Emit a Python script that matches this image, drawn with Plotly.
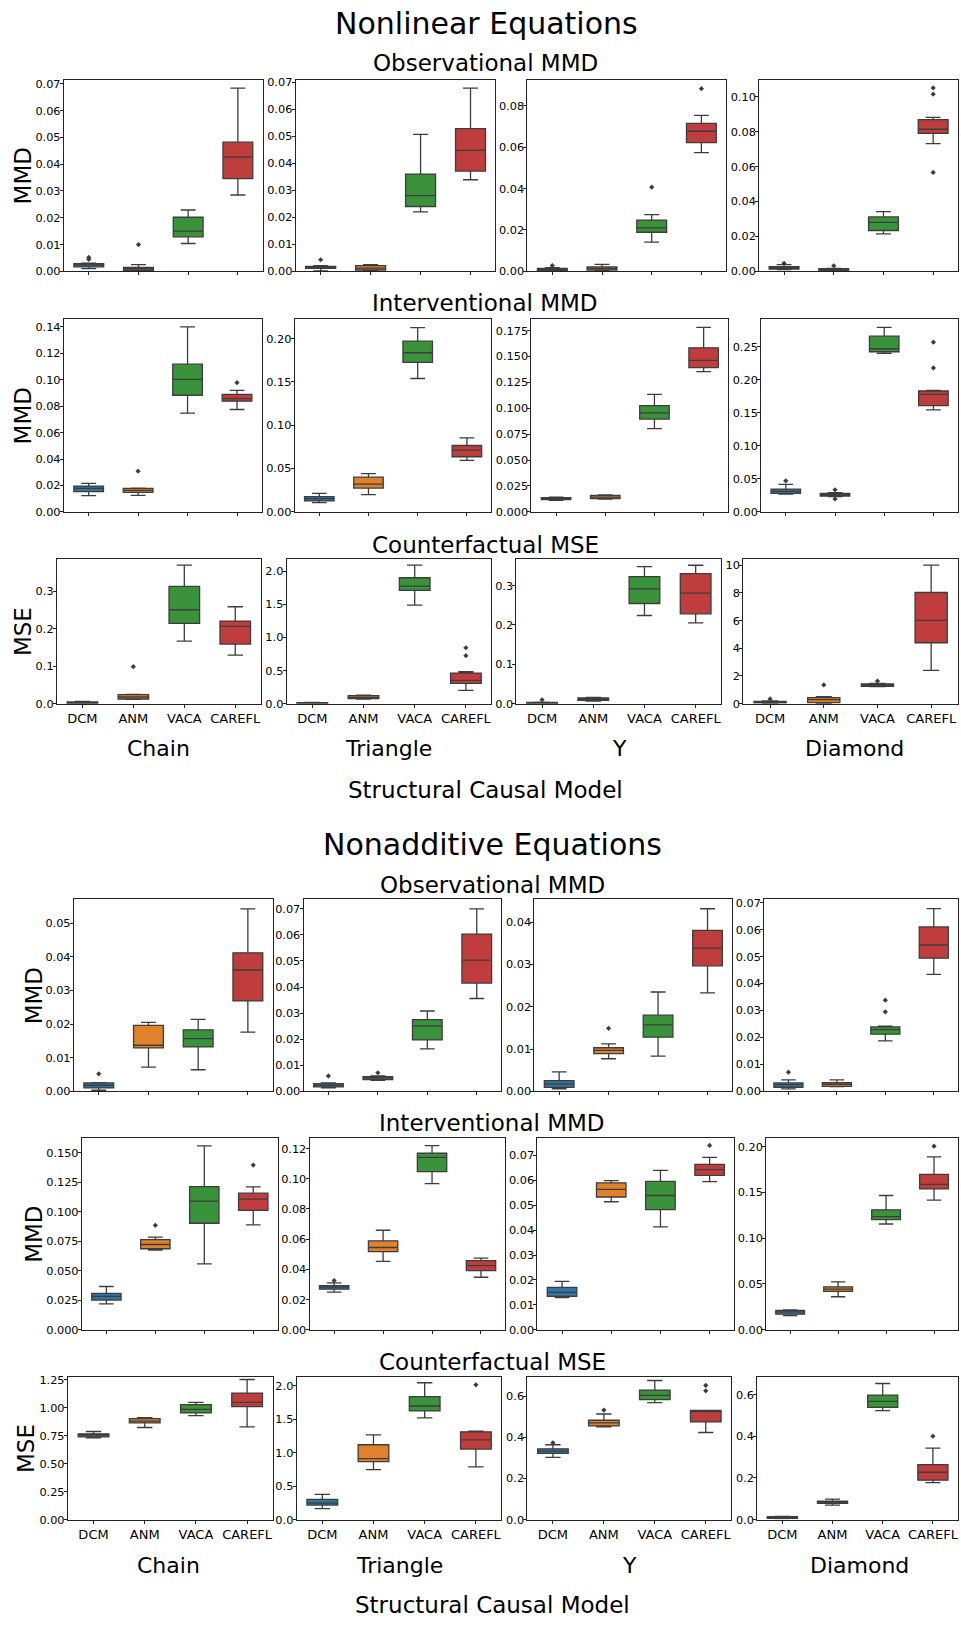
import plotly.graph_objects as go

# ---------------- data ----------------
methods = ["DCM", "ANM", "VACA", "CAREFL"]
models = ["Chain", "Triangle", "Y", "Diamond"]
colors = ["#3274a1", "#e1812c", "#3a923a", "#c03d3e"]

# Nonlinear equations -- Observational MMD  (per model: [DCM, ANM, VACA, CAREFL])
nl_obs_lo = [[0.0010, 0.0001, 0.0104, 0.0285], [0.0002, 0.0002, 0.0220, 0.0339],
             [0.0002, 0.0002, 0.0141, 0.0574], [0.0010, 0.0002, 0.0215, 0.0732]]
nl_obs_q1 = [[0.0017, 0.0004, 0.0129, 0.0346], [0.0011, 0.0005, 0.0240, 0.0371],
             [0.0005, 0.0006, 0.0189, 0.0622], [0.0013, 0.0006, 0.0234, 0.0791]]
nl_obs_med = [[0.0023, 0.0010, 0.0150, 0.0426], [0.0015, 0.0012, 0.0280, 0.0448],
              [0.0010, 0.0013, 0.0210, 0.0677], [0.0020, 0.0010, 0.0281, 0.0814]]
nl_obs_q3 = [[0.0029, 0.0015, 0.0202, 0.0482], [0.0018, 0.0021, 0.0360, 0.0528],
             [0.0014, 0.0021, 0.0248, 0.0715], [0.0027, 0.0015, 0.0312, 0.0869]]
nl_obs_hi = [[0.0031, 0.0025, 0.0229, 0.0684], [0.0021, 0.0025, 0.0507, 0.0678],
             [0.0018, 0.0034, 0.0274, 0.0754], [0.0038, 0.0017, 0.0342, 0.0882]]
nl_obs_out = [[[0.0045, 0.0052], [0.0100], [], []], [[0.0043], [], [], []],
              [[0.0028], [], [0.0407], [0.0883]], [[0.0046], [0.0032], [], [0.1051, 0.1015, 0.0567]]]

# Nonlinear equations -- Interventional MMD
nl_int_lo = [[0.0123, 0.0125, 0.0748, 0.0775], [0.0107, 0.0198, 0.1539, 0.0594],
             [0.0112, 0.0124, 0.0803, 0.1355], [0.0270, 0.0230, 0.2400, 0.1545]]
nl_int_q1 = [[0.0153, 0.0148, 0.0883, 0.0838], [0.0126, 0.0274, 0.1726, 0.0636],
             [0.0118, 0.0128, 0.0896, 0.1393], [0.0280, 0.0240, 0.2425, 0.1610]]
nl_int_med = [[0.0178, 0.0163, 0.1003, 0.0858], [0.0152, 0.0320, 0.1836, 0.0712],
              [0.0127, 0.0143, 0.0956, 0.1463], [0.0310, 0.0260, 0.2470, 0.1780]]
nl_int_q3 = [[0.0195, 0.0178, 0.1118, 0.0890], [0.0175, 0.0400, 0.1970, 0.0766],
             [0.0137, 0.0159, 0.1026, 0.1584], [0.0345, 0.0280, 0.2660, 0.1830]]
nl_int_hi = [[0.0215, 0.0180, 0.1400, 0.0920], [0.0213, 0.0442, 0.2126, 0.0853],
             [0.0143, 0.0163, 0.1135, 0.1782], [0.0415, 0.0290, 0.2795, 0.1840]]
nl_int_out = [[[], [0.0308], [], [0.0978]], [[], [], [], []],
              [[], [], [], []], [[0.0470], [0.0335, 0.0195], [], [0.2570, 0.2180]]]

# Nonlinear equations -- Counterfactual MSE
nl_cf_lo = [[0.0000, 0.0116, 0.1674, 0.1300], [0.000, 0.070, 1.487, 0.201],
            [0.0000, 0.0068, 0.2240, 0.2054], [0.03, 0.02, 1.23, 2.40]]
nl_cf_q1 = [[0.0010, 0.0125, 0.2146, 0.1594], [0.005, 0.075, 1.709, 0.3065],
            [0.0010, 0.0085, 0.2544, 0.2282], [0.05, 0.07, 1.25, 4.40]]
nl_cf_med = [[0.0020, 0.0178, 0.2511, 0.2066], [0.010, 0.095, 1.774, 0.352],
             [0.0020, 0.0110, 0.2916, 0.2806], [0.10, 0.29, 1.35, 6.01]]
nl_cf_q3 = [[0.0045, 0.0240, 0.3134, 0.2208], [0.015, 0.120, 1.900, 0.462],
            [0.0030, 0.0144, 0.3229, 0.3305], [0.17, 0.43, 1.42, 8.03]]
nl_cf_hi = [[0.0060, 0.0250, 0.3704, 0.2591], [0.020, 0.130, 2.090, 0.482],
            [0.0040, 0.0160, 0.3483, 0.3516], [0.20, 0.50, 1.47, 10.0]]
nl_cf_out = [[[], [0.0988], [], []], [[], [], [], [0.844, 0.724]],
             [[0.010], [], [], []], [[0.34], [1.35], [1.63], []]]

# Nonadditive equations -- Observational MMD
na_obs_lo = [[0.0003, 0.0072, 0.0064, 0.0176], [0.0013, 0.0042, 0.0163, 0.0356],
             [0.0006, 0.0077, 0.0083, 0.0233], [0.0009, 0.0017, 0.0187, 0.0434]]
na_obs_q1 = [[0.0010, 0.0129, 0.0132, 0.0269], [0.0017, 0.0045, 0.0197, 0.0415],
             [0.0009, 0.0089, 0.0128, 0.0297], [0.0015, 0.0018, 0.0212, 0.0494]]
na_obs_med = [[0.0018, 0.0137, 0.0157, 0.0361], [0.0023, 0.0051, 0.0251, 0.0503],
              [0.0017, 0.0097, 0.0157, 0.0339], [0.0025, 0.0026, 0.0229, 0.0543]]
na_obs_q3 = [[0.0025, 0.0196, 0.0183, 0.0412], [0.0029, 0.0056, 0.0275, 0.0603],
             [0.0025, 0.0103, 0.0180, 0.0381], [0.0031, 0.0032, 0.0239, 0.0610]]
na_obs_hi = [[0.0026, 0.0205, 0.0214, 0.0543], [0.0032, 0.0059, 0.0308, 0.0700],
             [0.0046, 0.0112, 0.0235, 0.0432], [0.0042, 0.0042, 0.0242, 0.0678]]
na_obs_out = [[[0.0052], [], [], []], [[0.0059], [0.0071], [], []],
              [[], [0.0149], [], []], [[0.0071], [], [0.0338, 0.0295], []]]

# Nonadditive equations -- Interventional MMD
na_int_lo = [[0.0219, 0.0676, 0.0558, 0.0889], [0.0250, 0.0453, 0.0968, 0.0348],
             [0.0129, 0.0514, 0.0413, 0.0595], [0.0155, 0.0361, 0.1155, 0.1415]]
na_int_q1 = [[0.0252, 0.0687, 0.0903, 0.1012], [0.0269, 0.0517, 0.1047, 0.0392],
             [0.0134, 0.0533, 0.0482, 0.0620], [0.0170, 0.0419, 0.1202, 0.1538]]
na_int_med = [[0.0283, 0.0723, 0.1091, 0.1107], [0.0282, 0.0545, 0.1141, 0.0425],
              [0.0150, 0.0564, 0.0539, 0.0643], [0.0195, 0.0444, 0.1235, 0.1588]]
na_int_q3 = [[0.0308, 0.0765, 0.1214, 0.1158], [0.0293, 0.0589, 0.1169, 0.0458],
             [0.0170, 0.0590, 0.0596, 0.0664], [0.0213, 0.0469, 0.1310, 0.1697]]
na_int_hi = [[0.0367, 0.0785, 0.1559, 0.1211], [0.0311, 0.0659, 0.1220, 0.0475],
             [0.0194, 0.0599, 0.0640, 0.0692], [0.0217, 0.0523, 0.1466, 0.1888]]
na_int_out = [[[], [0.0886], [], [0.1396]], [[0.0326], [], [], []],
              [[], [], [], [0.0740]], [[], [], [], [0.2004]]]

# Nonadditive equations -- Counterfactual MSE
na_cf_lo = [[0.7316, 0.8235, 0.930, 0.829], [0.163, 0.7475, 1.520, 0.787],
            [0.3024, 0.4504, 0.5678, 0.423], [0.005, 0.070, 0.5236, 0.178]]
na_cf_q1 = [[0.7405, 0.865, 0.954, 1.010], [0.218, 0.866, 1.624, 1.054],
            [0.3217, 0.4552, 0.5823, 0.4745], [0.0064, 0.078, 0.5395, 0.1894]]
na_cf_med = [[0.755, 0.880, 0.986, 1.0486], [0.2475, 0.911, 1.698, 1.193],
             [0.333, 0.4697, 0.6032, 0.5244], [0.011, 0.0843, 0.568, 0.2276]]
na_cf_q3 = [[0.767, 0.9034, 1.028, 1.1315], [0.302, 1.119, 1.837, 1.312],
            [0.344, 0.4826, 0.629, 0.5308], [0.0143, 0.0891, 0.5984, 0.2642]]
na_cf_hi = [[0.788, 0.912, 1.0486, 1.253], [0.376, 1.267, 2.045, 1.322],
            [0.3635, 0.513, 0.6756, 0.5308], [0.016, 0.0987, 0.654, 0.3438]]
na_cf_out = [[[], [], [], []], [[], [], [], [2.015]],
             [[0.373], [0.532], [], [0.6515, 0.6257]], [[], [], [], [0.401]]]

# y-axis upper limits and tick settings per row (Chain, Triangle, Y, Diamond)
nl_obs_ymax = [0.0716, 0.0710, 0.0927, 0.1099]
nl_int_ymax = [0.1460, 0.2225, 0.1862, 0.2920]
nl_cf_ymax = [0.388, 2.19, 0.3686, 10.48]
na_obs_ymax = [0.0571, 0.0736, 0.0454, 0.0712]
na_int_ymax = [0.1626, 0.1270, 0.0770, 0.2094]
na_cf_ymax = [1.2796, 2.1386, 0.695, 0.6875]

nl_obs_dtick = [0.01, 0.01, 0.02, 0.02]
nl_int_dtick = [0.02, 0.05, 0.025, 0.05]
nl_cf_dtick = [0.1, 0.5, 0.1, 2]
na_obs_dtick = [0.01, 0.01, 0.01, 0.01]
na_int_dtick = [0.025, 0.02, 0.01, 0.05]
na_cf_dtick = [0.25, 0.5, 0.2, 0.2]

nl_obs_fmt = [".2f", ".2f", ".2f", ".2f"]
nl_int_fmt = [".2f", ".2f", ".3f", ".2f"]
nl_cf_fmt = [".1f", ".1f", ".1f", ".0f"]
na_obs_fmt = [".2f", ".2f", ".2f", ".2f"]
na_int_fmt = [".3f", ".2f", ".2f", ".2f"]
na_cf_fmt = [".2f", ".1f", ".1f", ".1f"]

row_metric = ["MMD", "MMD", "MSE", "MMD", "MMD", "MSE"]
section_titles = ["Nonlinear Equations", "Nonadditive Equations"]
row_titles = ["Observational MMD", "Interventional MMD", "Counterfactual MSE"]
xlabel = "Structural Causal Model"

rows = [
    (nl_obs_lo, nl_obs_q1, nl_obs_med, nl_obs_q3, nl_obs_hi, nl_obs_out, nl_obs_ymax, nl_obs_dtick, nl_obs_fmt),
    (nl_int_lo, nl_int_q1, nl_int_med, nl_int_q3, nl_int_hi, nl_int_out, nl_int_ymax, nl_int_dtick, nl_int_fmt),
    (nl_cf_lo, nl_cf_q1, nl_cf_med, nl_cf_q3, nl_cf_hi, nl_cf_out, nl_cf_ymax, nl_cf_dtick, nl_cf_fmt),
    (na_obs_lo, na_obs_q1, na_obs_med, na_obs_q3, na_obs_hi, na_obs_out, na_obs_ymax, na_obs_dtick, na_obs_fmt),
    (na_int_lo, na_int_q1, na_int_med, na_int_q3, na_int_hi, na_int_out, na_int_ymax, na_int_dtick, na_int_fmt),
    (na_cf_lo, na_cf_q1, na_cf_med, na_cf_q3, na_cf_hi, na_cf_out, na_cf_ymax, na_cf_dtick, na_cf_fmt),
]

# ---------------- layout geometry (pixels) ----------------
W, H = 961, 1627
row_tops = [77, 318, 559, 902, 1142, 1382]
row_bots = [270, 512, 705, 1095, 1335, 1526]
row_lefts = [[64, 296, 528, 760], [64, 295, 532, 762], [57, 287, 517, 744],
             [74, 304, 535, 765], [82, 310, 538, 767], [68, 297, 528, 758]]
row_rights = [[263, 496, 727, 959], [262, 492, 729, 959], [261, 492, 722, 959],
              [273, 502, 733, 959], [278, 506, 735, 959], [273, 502, 732, 959]]
ylab_x = [23, 23, 23, 34, 34, 26]

FONT = "DejaVu Sans"
LINE = "#3d3d3d"

fig = go.Figure()
layout = dict(
    width=W, height=H, margin=dict(l=0, r=0, t=0, b=0),
    paper_bgcolor="white", plot_bgcolor="white", showlegend=False,
    boxmode="overlay", font=dict(family=FONT, color="black"),
)
annotations = []

def px_x(v):
    return v / W

def px_y(v):
    return 1 - v / H

idx = 0
for r, (lo, q1, med, q3, hi, out, ymax, dtick, fmt) in enumerate(rows):
    for c in range(4):
        idx += 1
        xa = "x" if idx == 1 else f"x{idx}"
        ya = "y" if idx == 1 else f"y{idx}"
        for m in range(4):
            fig.add_trace(go.Box(
                x=[methods[m]], q1=[q1[c][m]], median=[med[c][m]], q3=[q3[c][m]],
                lowerfence=[lo[c][m]], upperfence=[hi[c][m]],
                width=0.6, whiskerwidth=0.5, boxpoints=False,
                fillcolor=colors[m], line=dict(color=LINE, width=1.3),
                xaxis=xa, yaxis=ya, hoverinfo="skip",
            ))
            if out[c][m]:
                fig.add_trace(go.Scatter(
                    x=[methods[m]] * len(out[c][m]), y=out[c][m], mode="markers",
                    marker=dict(symbol="diamond", size=4, color=LINE),
                    xaxis=xa, yaxis=ya, hoverinfo="skip",
                ))
        bottom = r in (2, 5)
        key = "" if idx == 1 else str(idx)
        layout["xaxis" + key] = dict(
            domain=[px_x(row_lefts[r][c]), px_x(row_rights[r][c])],
            anchor=ya, type="category", categoryorder="array", categoryarray=methods,
            range=[-0.5, 3.5], showline=True, mirror=True, linecolor="#222222", linewidth=1.2,
            showgrid=False, zeroline=False, ticks="outside", ticklen=3, tickcolor="#222222",
            showticklabels=bottom, tickfont=dict(family=FONT, size=13, color="black"),
            fixedrange=True,
        )
        layout["yaxis" + key] = dict(
            domain=[px_y(row_bots[r]), px_y(row_tops[r])],
            anchor=xa, range=[0, ymax[c]], dtick=dtick[c], tick0=0, tickformat=fmt[c],
            showline=True, mirror=True, linecolor="#222222", linewidth=1.2,
            showgrid=False, zeroline=False, ticks="outside", ticklen=3, tickcolor="#222222",
            ticklabelstandoff=-3,
            tickfont=dict(family=FONT, size=11.3, color="black"), fixedrange=True,
        )
    # y-axis label
    annotations.append(dict(
        text=row_metric[r], x=px_x(ylab_x[r]), y=px_y((row_tops[r] + row_bots[r]) / 2),
        xref="paper", yref="paper", showarrow=False, textangle=-90,
        xanchor="center", yanchor="middle", font=dict(family=FONT, size=23, color="black"),
    ))

def text(t, x, y, size):
    annotations.append(dict(
        text=t, x=px_x(x), y=px_y(y), xref="paper", yref="paper", showarrow=False,
        xanchor="center", yanchor="middle", font=dict(family=FONT, size=size, color="black"),
    ))

# Section 1 texts
text(section_titles[0], 487, 21, 30)
text(row_titles[0], 486, 60, 23)
text(row_titles[1], 486, 302, 23)
text(row_titles[2], 486, 545, 23)
for c, xc in enumerate([159, 389, 620, 855]):
    text(models[c], xc, 750, 22)
text(xlabel, 486, 792, 23)

# Section 2 texts
text(section_titles[1], 493, 847, 30)
text(row_titles[0], 493, 887, 23)
text(row_titles[1], 493, 1127, 23)
text(row_titles[2], 493, 1367, 23)
for c, xc in enumerate([169, 400, 630, 860]):
    text(models[c], xc, 1572, 22)
text(xlabel, 493, 1612, 23)

layout["annotations"] = annotations
fig.update_layout(**layout)
fig.write_html(
    "out.html",
    config={"displayModeBar": False},
    post_script="document.body.style.margin='0';document.body.style.padding='0';"
                "document.body.style.overflow='hidden';",
)
